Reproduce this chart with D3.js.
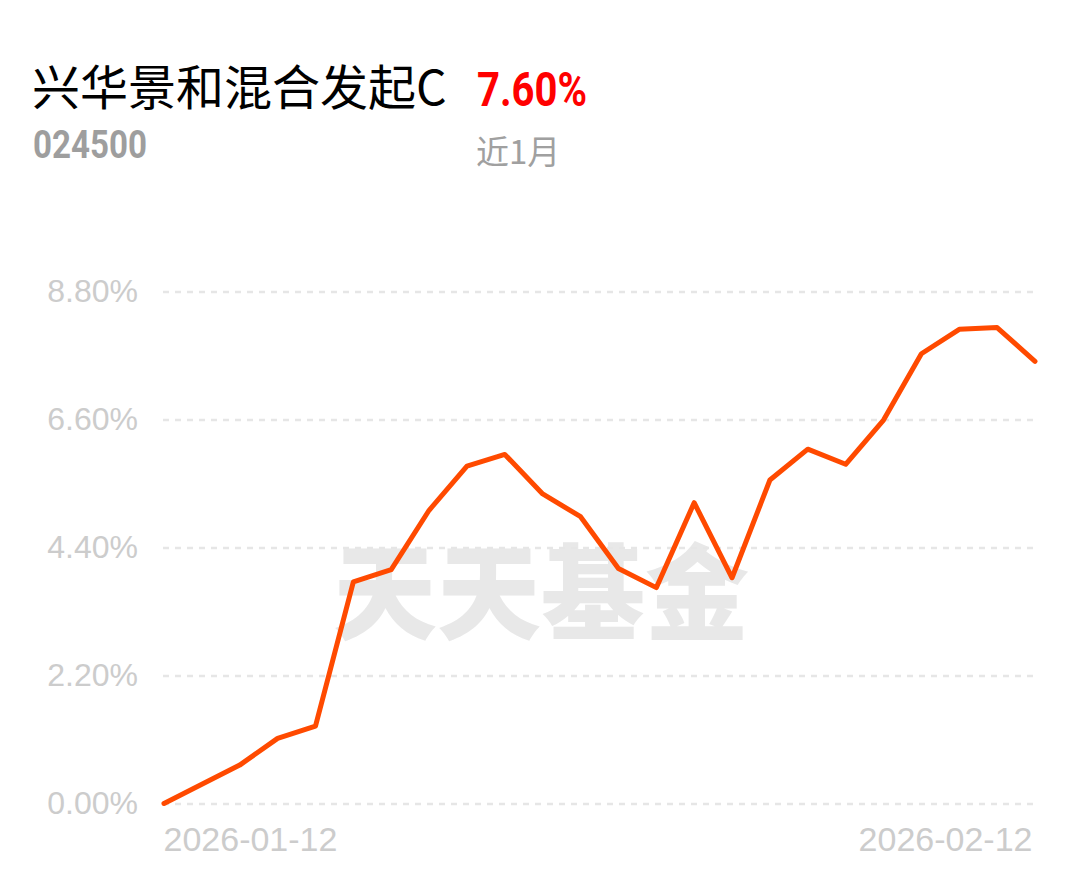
<!DOCTYPE html>
<html>
<head>
<meta charset="utf-8">
<script src="https://cdn.jsdelivr.net/npm/d3@7"></script>
<style>
  html, body { margin: 0; padding: 0; background: #fff; }
  svg { display: block; }
</style>
</head>
<body>
<svg id="chart" width="1080" height="881"></svg>
<script>
// fund info
var fundName = "兴华景和混合发起C",
  fundCode = "024500",
  periodReturn = "7.60%",
  periodLabel = "近1月";

// trading days, 2026-01-12 .. 2026-02-12
var dates = [
  "2026-01-12", "2026-01-13", "2026-01-14", "2026-01-15", "2026-01-16",
  "2026-01-19", "2026-01-20", "2026-01-21", "2026-01-22", "2026-01-23",
  "2026-01-26", "2026-01-27", "2026-01-28", "2026-01-29", "2026-01-30",
  "2026-02-02", "2026-02-03", "2026-02-04", "2026-02-05", "2026-02-06",
  "2026-02-09", "2026-02-10", "2026-02-11", "2026-02-12"
];

// cumulative return, percent
var returns = [
  0.00, 0.33, 0.66, 1.12, 1.33,
  3.81, 4.02, 5.04, 5.80, 6.00,
  5.32, 4.93, 4.04, 3.71, 5.17,
  3.88, 5.56, 6.09, 5.83, 6.59,
  7.73, 8.15, 8.18, 7.60
];

var yTicks = [0, 2.2, 4.4, 6.6, 8.8];
var xTicks = ["2026-01-12", "2026-02-12"];

function drawChart(selector) {
  var svg = d3.select(selector);

  var plotLeft = 163, plotRight = 1035, plotTop = 291.5, plotBottom = 803.5;

  var x = d3.scalePoint()
    .domain(dates)
    .range([plotLeft + 1, plotRight]);

  var y = d3.scaleLinear()
    .domain([0, 8.8])
    .range([plotBottom, plotTop]);

  // header
  svg.append("text")
    .attr("x", 32)
    .attr("y", 105)
    .attr("font-family", "'Noto Sans CJK SC', 'Noto Sans', sans-serif")
    .attr("font-size", 48)
    .attr("fill", "#000")
    .text(fundName);

  svg.append("text")
    .attr("x", 477)
    .attr("y", 106)
    .attr("font-family", "Roboto, 'Noto Sans', sans-serif")
    .attr("font-weight", "bold")
    .attr("font-size", 49)
    .attr("textLength", 110)
    .attr("lengthAdjust", "spacingAndGlyphs")
    .attr("fill", "#ff0000")
    .text(periodReturn);

  svg.append("text")
    .attr("x", 33)
    .attr("y", 158)
    .attr("font-family", "Roboto, 'Noto Sans', sans-serif")
    .attr("font-weight", "bold")
    .attr("font-size", 38)
    .attr("textLength", 114)
    .attr("lengthAdjust", "spacingAndGlyphs")
    .attr("fill", "#9e9e9e")
    .text(fundCode);

  svg.append("text")
    .attr("x", 476)
    .attr("y", 164)
    .attr("font-family", "'Noto Sans CJK SC', sans-serif")
    .attr("font-size", 33)
    .attr("fill", "#a0a0a0")
    .text(periodLabel);

  // watermark
  svg.append("text")
    .attr("x", 541)
    .attr("y", 632)
    .attr("text-anchor", "middle")
    .attr("font-family", "'Noto Sans CJK SC', sans-serif")
    .attr("font-weight", 900)
    .attr("font-size", 104)
    .attr("fill", "#e8e8e8")
    .text("天天基金");

  // y axis + dashed grid
  var yAxis = svg.append("g")
    .attr("transform", "translate(" + plotLeft + ",0)")
    .call(d3.axisLeft(y)
      .tickValues(yTicks)
      .tickSize(-(plotRight - plotLeft))
      .tickPadding(25)
      .tickFormat(function(d) { return d3.format(".2f")(d) + "%"; }));

  yAxis.select(".domain").remove();
  yAxis.selectAll(".tick line")
    .attr("stroke", "#e6e6e6")
    .attr("stroke-width", 2.5)
    .attr("stroke-dasharray", "6,6");
  yAxis.selectAll(".tick text")
    .attr("font-family", "'Liberation Sans', Arial, sans-serif")
    .attr("font-size", 32)
    .attr("fill", "#cccccc");

  // x axis, first and last date only
  var xAxis = svg.append("g")
    .attr("transform", "translate(0," + plotBottom + ")")
    .call(d3.axisBottom(x)
      .tickValues(xTicks)
      .tickSize(0)
      .tickPadding(47));

  xAxis.select(".domain").remove();
  xAxis.selectAll(".tick text")
    .attr("font-family", "'Liberation Sans', Arial, sans-serif")
    .attr("font-size", 34)
    .attr("fill", "#cccccc")
    .attr("dy", 0)
    .attr("text-anchor", function(d, i) { return i === 0 ? "start" : "end"; })
    .attr("dx", function(d, i) { return i === 0 ? -1 : -3; });

  // return line
  var line = d3.line()
    .x(function(d, i) { return x(dates[i]); })
    .y(function(d) { return y(d); });

  svg.append("path")
    .datum(returns)
    .attr("fill", "none")
    .attr("stroke", "#ff4a00")
    .attr("stroke-width", 5)
    .attr("stroke-linejoin", "round")
    .attr("stroke-linecap", "round")
    .attr("d", line);
}

drawChart("#chart");
</script>
</body>
</html>
